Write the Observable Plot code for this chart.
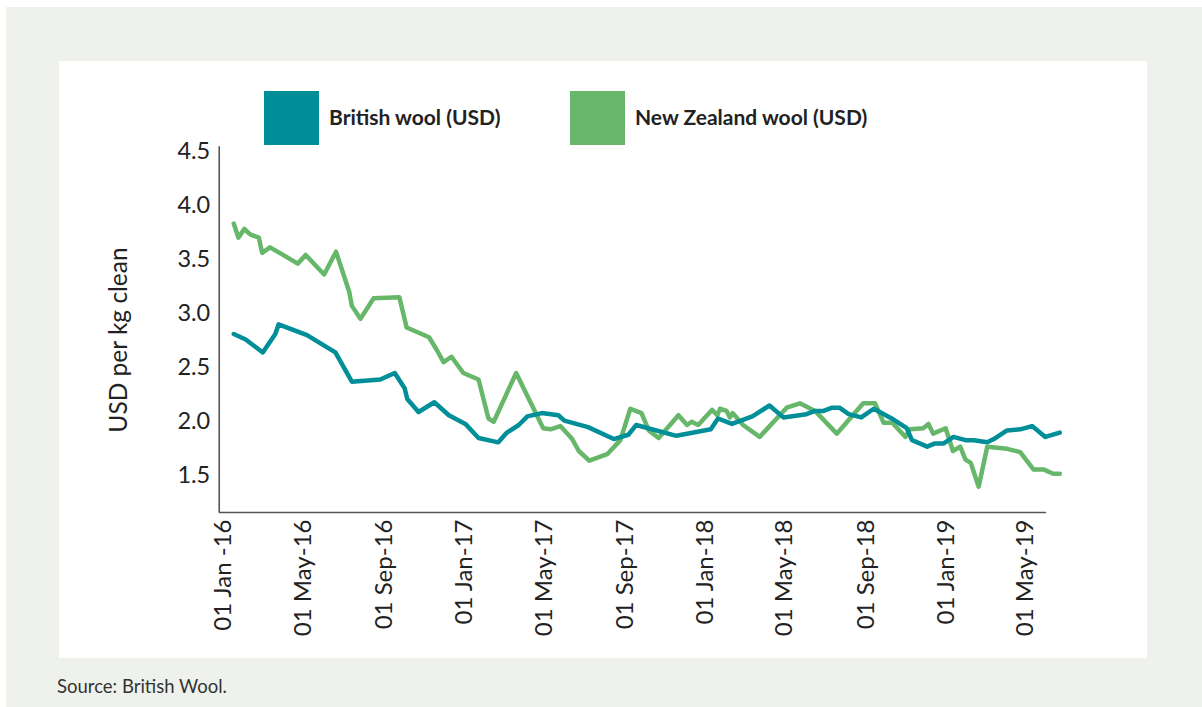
<!DOCTYPE html>
<html>
<head>
<meta charset="utf-8">
<script src="https://cdn.jsdelivr.net/npm/d3@7"></script>
<script src="https://cdn.jsdelivr.net/npm/@observablehq/plot@0.6"></script>
<style>
  html, body { margin: 0; padding: 0; background: #ffffff; width: 1202px; height: 707px; overflow: hidden; }
  body { position: relative; font-family: Lato, "Open Sans", sans-serif; }
  #outer { position: absolute; left: 6px; top: 7px; width: 1196px; height: 700px; background: #eff2ec; }
  #panel { position: absolute; left: 59px; top: 61px; width: 1088px; height: 597px; background: #ffffff; }
  #chart { position: absolute; left: 59px; top: 61px; }
  .sw { position: absolute; width: 55px; height: 54px; }
  .lg { position: absolute; font-weight: 700; font-size: 21px; color: #222; line-height: 1; }
  #ylab { position: absolute; left: 117px; top: 340px; transform: translate(-50%, -50%) rotate(-90deg); font-size: 24.5px; color: #222; white-space: nowrap; }
  #src { position: absolute; left: 57px; top: 675px; font-size: 18.5px; color: #333; }
</style>
</head>
<body>
<div id="outer"></div>
<div id="panel"></div>
<div id="chart"></div>
<div class="sw" style="left:264px;top:91px;background:#008f98"></div>
<div class="lg" style="left:329px;top:106px">British wool (USD)</div>
<div class="sw" style="left:570px;top:91px;background:#66b769"></div>
<div class="lg" style="left:635px;top:106px">New Zealand wool (USD)</div>
<div id="ylab">USD per kg clean</div>
<div id="src">Source: British Wool.</div>
<script>
// New Zealand wool (USD per kg clean)
const nzDates = ["2016-01-17","2016-01-24","2016-02-02","2016-02-11","2016-02-24","2016-02-29","2016-03-12","2016-03-29","2016-04-23","2016-05-05","2016-06-02","2016-06-20","2016-07-10","2016-07-14","2016-07-27","2016-08-16","2016-09-24","2016-10-05","2016-11-08","2016-11-20","2016-11-30","2016-12-12","2016-12-30","2017-01-22","2017-02-06","2017-02-14","2017-03-20","2017-04-30","2017-05-11","2017-05-26","2017-06-13","2017-06-23","2017-07-09","2017-08-05","2017-08-25","2017-09-09","2017-09-26","2017-10-07","2017-10-22","2017-11-21","2017-12-04","2017-12-11","2017-12-21","2018-01-11","2018-01-19","2018-01-23","2018-02-02","2018-02-07","2018-02-11","2018-02-27","2018-03-24","2018-05-04","2018-05-24","2018-06-16","2018-07-19","2018-08-28","2018-09-15","2018-09-28","2018-10-11","2018-10-31","2018-11-07","2018-11-27","2018-12-05","2018-12-12","2018-12-31","2019-01-11","2019-01-22","2019-01-30","2019-02-07","2019-02-19","2019-03-04","2019-04-03","2019-04-23","2019-05-13","2019-05-28","2019-06-12","2019-06-22"];
const nzValues = [3.83,3.70,3.78,3.73,3.70,3.56,3.61,3.55,3.46,3.54,3.36,3.57,3.20,3.07,2.95,3.14,3.15,2.87,2.78,2.66,2.55,2.60,2.45,2.39,2.03,2.00,2.45,1.94,1.93,1.96,1.84,1.73,1.64,1.70,1.83,2.12,2.08,1.92,1.85,2.06,1.97,2.00,1.97,2.11,2.06,2.12,2.10,2.04,2.08,1.97,1.86,2.13,2.17,2.10,1.89,2.17,2.17,1.99,1.99,1.86,1.93,1.94,1.98,1.89,1.94,1.73,1.77,1.65,1.62,1.40,1.77,1.75,1.72,1.56,1.56,1.52,1.52];

// British wool (USD per kg clean)
const bwDates = ["2016-01-17","2016-02-04","2016-03-01","2016-03-20","2016-03-25","2016-05-07","2016-06-19","2016-07-14","2016-08-26","2016-09-17","2016-10-02","2016-10-06","2016-10-23","2016-11-16","2016-12-08","2017-01-02","2017-01-22","2017-02-21","2017-03-06","2017-03-24","2017-04-06","2017-04-28","2017-05-23","2017-06-01","2017-07-07","2017-08-15","2017-09-06","2017-09-18","2017-11-18","2018-01-09","2018-01-20","2018-02-10","2018-03-13","2018-04-08","2018-04-29","2018-06-03","2018-06-16","2018-06-29","2018-07-12","2018-07-23","2018-08-06","2018-08-25","2018-09-13","2018-10-13","2018-11-02","2018-11-10","2018-12-03","2018-12-15","2018-12-28","2019-01-12","2019-01-30","2019-02-12","2019-03-04","2019-03-14","2019-04-03","2019-04-23","2019-05-11","2019-05-31","2019-06-22"];
const bwValues = [2.81,2.76,2.64,2.81,2.90,2.80,2.64,2.37,2.39,2.45,2.31,2.21,2.09,2.18,2.06,1.98,1.85,1.81,1.90,1.97,2.05,2.08,2.06,2.01,1.95,1.84,1.88,1.97,1.87,1.93,2.03,1.98,2.05,2.15,2.04,2.07,2.10,2.10,2.13,2.13,2.07,2.04,2.12,2.02,1.94,1.83,1.77,1.80,1.80,1.86,1.83,1.83,1.81,1.84,1.92,1.93,1.96,1.86,1.90];

const xTickDates = ["2016-01-01","2016-05-01","2016-09-01","2017-01-01","2017-05-01","2017-09-01","2018-01-01","2018-05-01","2018-09-01","2019-01-01","2019-05-01"];
const xTickLabels = ["01 Jan -16","01 May-16","01 Sep-16","01 Jan-17","01 May-17","01 Sep-17","01 Jan-18","01 May-18","01 Sep-18","01 Jan-19","01 May-19"];
const yTicks = [1.5, 2.0, 2.5, 3.0, 3.5, 4.0, 4.5];

const colorBW = "#008f98";
const colorNZ = "#66b769";

const nz = nzDates.map((d, i) => ({date: new Date(d), value: nzValues[i]}));
const bw = bwDates.map((d, i) => ({date: new Date(d), value: bwValues[i]}));
const tickDates = xTickDates.map(d => new Date(d));

const yMin = 1.162, yMax = 4.5;
const axisStart = new Date("2015-12-26");
const axisEnd = new Date("2019-06-02");

const chart = Plot.plot({
  width: 1088,
  height: 597,
  marginLeft: 163.7,
  marginRight: 122,
  marginTop: 89.5,
  marginBottom: 146,
  x: {type: "utc", domain: [new Date("2016-01-01"), new Date("2019-05-01")]},
  y: {domain: [yMin, yMax]},
  style: {fontFamily: "Lato, 'Open Sans', sans-serif", color: "#222", background: "transparent", overflow: "visible"},
  marks: [
    Plot.axisY({ticks: yTicks, tickSize: 0, tickPadding: 13, tickFormat: d => d.toFixed(1), label: null, fontSize: 23.5}),
    Plot.axisX({ticks: tickDates, tickSize: 0, tickPadding: 7, tickRotate: -90, tickFormat: (d, i) => xTickLabels[i], label: null, fontSize: 24}),
    Plot.ruleX([axisStart], {y1: yMin, y2: 4.54, stroke: "#555", strokeWidth: 1.6}),
    Plot.ruleY([yMin], {x1: axisStart, x2: axisEnd, stroke: "#555", strokeWidth: 1.6}),
    Plot.line(nz, {x: "date", y: "value", stroke: colorNZ, strokeWidth: 4.5}),
    Plot.line(bw, {x: "date", y: "value", stroke: colorBW, strokeWidth: 4.5})
  ]
});
document.getElementById("chart").appendChild(chart);
</script>
</body>
</html>
